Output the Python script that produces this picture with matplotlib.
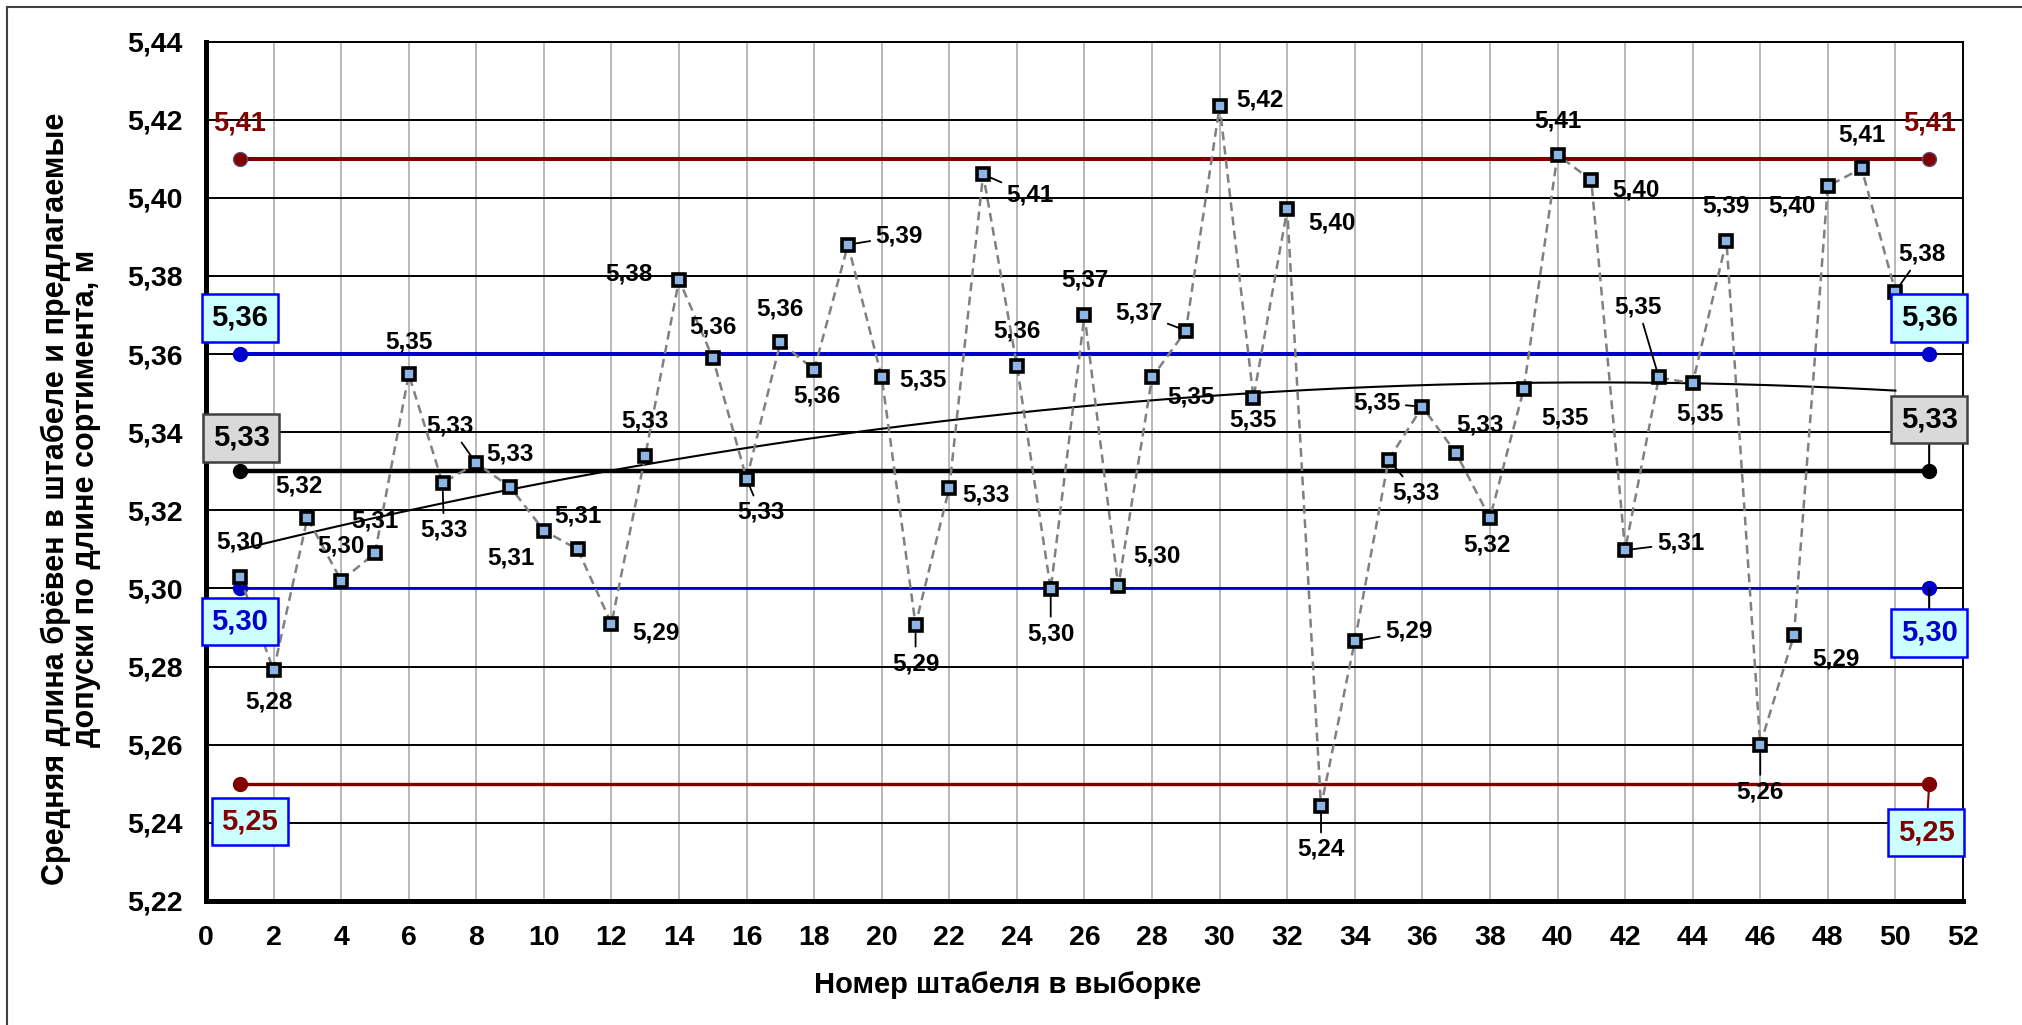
import numpy as np
import matplotlib.pyplot as plt
from matplotlib.lines import Line2D

# ---- data ----
stack_no = list(range(1, 51))
mean_len = [5.303, 5.279, 5.318, 5.302, 5.309, 5.3548, 5.327, 5.332, 5.326, 5.3148,
            5.310, 5.291, 5.334, 5.379, 5.359, 5.328, 5.363, 5.356, 5.388, 5.354,
            5.2907, 5.3258, 5.406, 5.357, 5.2998, 5.370, 5.3005, 5.354, 5.366, 5.4235,
            5.3488, 5.397, 5.2442, 5.2865, 5.333, 5.3465, 5.3346, 5.318, 5.351, 5.411,
            5.4045, 5.3098, 5.354, 5.3525, 5.389, 5.260, 5.2881, 5.403, 5.4075, 5.376]

# tolerance / mean lines (drawn between x=1 and x=51)
levels = [5.41, 5.36, 5.33, 5.30, 5.25]
level_x = [1, 51]

# ---- label placement (points) ----
lab_off = [(0, 25), (-3, -23), (-6, 23), (0, 25), (0, 23), (0, 23), (1, -34), (-19, 27), (0, 24), (-24, -20),
           (0, 24), (32, -7), (0, 25), (-36, 4), (0, 22), (10, -24), (0, 24), (2, -19), (37, 6), (30, -2),
           (0, -28), (26, -5), (34, -15), (0, 25), (0, -32), (0, 25), (28, 22), (28, -14), (-34, 13), (29, 4),
           (0, -16), (32, -10), (0, -31), (39, 7), (20, -24), (-33, 3), (17, 20), (-2, -19), (30, -21), (0, 24),
           (32, -7), (40, 5), (-15, 51), (5, -22), (0, 25), (0, -34), (30, -17), (-26, -14), (0, 24), (19, 27)]
leaders = {7, 8, 16, 19, 21, 23, 25, 29, 33, 34, 35, 36, 42, 43, 46, 50}

DRED = '#800000'
BLUE = '#0000cc'

lvl_style = {
    5.41: dict(color=DRED, lw=2.9, txt=DRED, box=None),
    5.36: dict(color=BLUE, lw=2.9, txt='black', box=('#ccffff', '#0000ff')),
    5.33: dict(color='black', lw=3.2, txt='black', box=('#d9d9d9', '#404040')),
    5.30: dict(color=BLUE, lw=2.0, txt=BLUE, box=('#ccffff', '#0000ff')),
    5.25: dict(color=DRED, lw=2.4, txt=DRED, box=('#ccffff', '#0000ff')),
}
# offsets of the end labels: (left, right, leader on right)
lvl_off = {
    5.41: ((0, 25), (0, 25), False),
    5.36: ((0, 26), (0, 26), False),
    5.33: ((1, 24), (0, 37), True),
    5.30: ((0, -24), (0, -32), True),
    5.25: ((7, -27), (-2, -35), True),
}

plt.rcParams['font.family'] = ['Liberation Sans', 'DejaVu Sans']
plt.rcParams['font.weight'] = 'bold'

fig = plt.figure(figsize=(20.22, 10.25), dpi=100)
ax = fig.add_axes([0.1019, 0.121, 0.8689, 0.8385])

ax.set_xlim(0, 52)
ax.set_ylim(5.22, 5.44)
ax.set_xticks(np.arange(0, 53, 2))
yt = np.round(np.arange(5.22, 5.4401, 0.02), 2)
ax.set_yticks(yt)
ax.set_yticklabels([f"{v:.2f}".replace('.', ',') for v in yt])
ax.tick_params(length=0, labelsize=20.5, pad=17)

ax.grid(axis='y', color='black', lw=1.4, zorder=0)
ax.grid(axis='x', color='#a6a6a6', lw=1.1, zorder=0)
ax.set_axisbelow(True)
for s in ['left', 'bottom']:
    ax.spines[s].set_linewidth(3.6)
for s in ['top', 'right']:
    ax.spines[s].set_linewidth(1.4)

# reference levels
for lv in levels:
    st = lvl_style[lv]
    ax.plot(level_x, [lv, lv], color=st['color'], lw=st['lw'], marker='o', ms=10,
            mec='#604a7b' if lv == 5.41 else st['color'], mew=1, zorder=3)
    offs = lvl_off[lv]
    for i, xx in enumerate(level_x):
        off = offs[i]
        bbox = None
        fs = 19.5
        if st['box'] is not None:
            bbox = dict(boxstyle='square,pad=0.33', fc=st['box'][0], ec=st['box'][1], lw=1.8)
            fs = 21
        arrow = None
        if i == 1 and offs[2]:
            arrow = dict(arrowstyle='-', color=st['color'] if lv == 5.25 else 'black', lw=1.5,
                         shrinkA=0, shrinkB=0)
        ax.annotate(f"{lv:.2f}".replace('.', ','), (xx, lv), xytext=off, textcoords='offset points',
                    ha='center', va='center', fontsize=fs, fontweight='bold', color=st['txt'],
                    bbox=bbox, arrowprops=arrow, zorder=6)

# polynomial trend
coef = np.polyfit(stack_no, mean_len, 2)
xt = np.linspace(stack_no[0], stack_no[-1], 200)
ax.plot(xt, np.polyval(coef, xt), color='black', lw=1.5, zorder=3.5)

# data series
ax.plot(stack_no, mean_len, color='#808080', lw=1.8, linestyle=(0, (3.5, 2.2)), zorder=4,
        marker='s', ms=9, mfc='#8db4e2', mec='black', mew=2.6)

for i, (xx, yy) in enumerate(zip(stack_no, mean_len)):
    arrow = None
    if xx in leaders:
        arrow = dict(arrowstyle='-', color='black', lw=1.3, shrinkA=2, shrinkB=5)
    ax.annotate(f"{yy:.2f}".replace('.', ','), (xx, yy), xytext=lab_off[i], textcoords='offset points',
                ha='center', va='center', fontsize=17.5, fontweight='bold', color='black',
                arrowprops=arrow, zorder=6)

ax.set_xlabel('Номер штабеля в выборке', fontsize=21, fontweight='bold', va='center')
ax.xaxis.set_label_coords(0.4565, -0.098)
ax.set_ylabel('Средняя длина брёвен в штабеле и предлагаемые\nдопуски по длине сортимента, м',
              fontsize=22, fontweight='bold', va='center', linespacing=1.0)
ax.yaxis.set_label_coords(-0.077, 0.468)

# outer chart-area frame (cropped at right and bottom)
fig.add_artist(Line2D([7 / 2022, 7 / 2022], [0, 1 - 7 / 1025], transform=fig.transFigure,
                      color='#404040', lw=1.5))
fig.add_artist(Line2D([7 / 2022, 1], [1 - 7 / 1025, 1 - 7 / 1025], transform=fig.transFigure,
                      color='#404040', lw=1.5))

fig.savefig('out.png', dpi=100)
